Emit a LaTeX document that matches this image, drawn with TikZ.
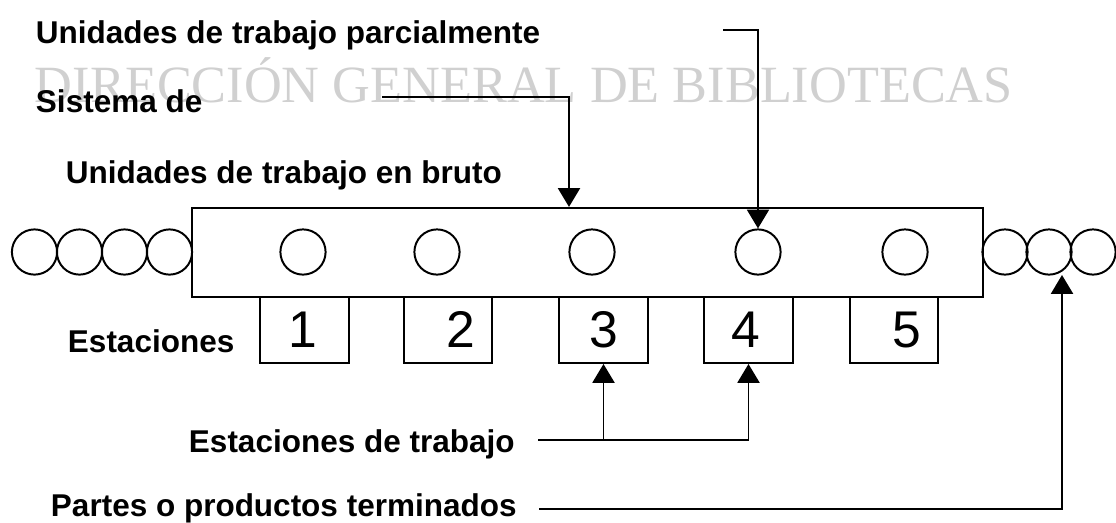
\documentclass[tikz,border=0pt]{standalone}
\usepackage{fontspec}
\setmainfont{Liberation Sans}
\newfontfamily\marcaagua{Liberation Serif}
\usetikzlibrary{arrows.meta}
\definecolor{grismarca}{RGB}{208, 208, 208}

\begin{document}
\begin{tikzpicture}[x=0.025cm, y=-0.025cm, line width=1.4pt,
    etiqueta/.style={anchor=base west, inner sep=0pt, font=\fontsize{22.4}{26}\selectfont\bfseries},
    pieza/.style={draw, circle, minimum size=1.13cm, inner sep=0pt},
    estacion/.style={draw, minimum width=2.22cm, minimum height=1.65cm, inner sep=0pt},
    digito/.style={anchor=base, inner sep=0pt, font=\fontsize{36.7}{40}\selectfont},
    flecha/.style={-{Triangle[width=5.5mm, length=4.7mm]}}]

\useasboundingbox (0,0) rectangle (1116,522);

% Marca de agua
\node[anchor=base west, inner sep=0pt, text=grismarca, font=\marcaagua\fontsize{37.2}{40}\selectfont] (marca) at (34,102) {DIRECCIÓN GENERAL DE BIBLIOTECAS};

% Linea de ensamble
\node[draw, minimum width=19.78cm, minimum height=2.23cm, inner sep=0pt] (linea) at (587.5,252.5) {};

% Piezas dentro de la linea
\foreach \n/\x in {1/303, 2/437, 3/592, 4/758, 5/905}
    \node[pieza] (c\n) at (\x,252) {};

% Piezas en bruto (entrada)
\foreach \n/\x in {1/34.5, 2/79.5, 3/124.5, 4/169.5}
    \node[pieza] (l\n) at (\x,252) {};

% Piezas terminadas (salida)
\foreach \n/\x in {1/1005, 2/1049, 3/1093}
    \node[pieza] (r\n) at (\x,252) {};

% Estaciones
\foreach \n/\x/\d in {1/304.5/303, 2/448/461, 3/603.5/604, 4/748.5/746, 5/894/907} {
    \node[estacion] (e\n) at (\x,330) {};
    \node[digito] (d\n) at (\d,347) {\n};
}

% Etiquetas
\node[etiqueta] (parcial) at (35,43) {Unidades de trabajo parcialmente};
\node[etiqueta] (sistema) at (35,112) {Sistema de};
\node[etiqueta] (bruto) at (65,183) {Unidades de trabajo en bruto};
\node[etiqueta] (estac) at (67,352) {Estaciones};
\node[etiqueta] (trabajo) at (188,452) {Estaciones de trabajo};
\node[etiqueta] (partes) at (50,516) {Partes o productos terminados};

% Conectores
\coordinate (p1) at (723,30);
\coordinate (s1) at (382,97);
\coordinate (s2) at (569,97);
\coordinate (t1) at (538,440);
\coordinate (q1) at (539,509);
\coordinate (q2) at (1062,275);

\draw[flecha] (p1) -| (c4.north);
\draw[flecha] (s1) -- (s2) -- (s2 |- linea.north);
\draw (t1) -- (t1 -| e4.south);
\draw[flecha] (t1 -| e3.south) -- (e3.south);
\draw[flecha] (t1 -| e4.south) -- (e4.south);
\draw[flecha] (q1) -| (q2);
\end{tikzpicture}
\end{document}
